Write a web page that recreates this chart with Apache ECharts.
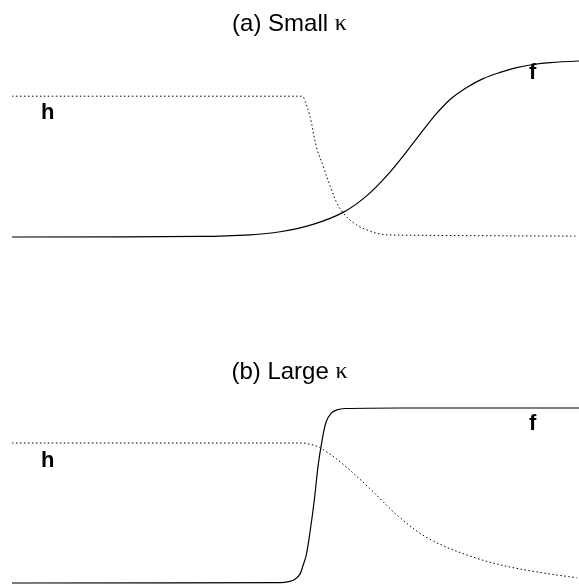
<!DOCTYPE html>
<html lang="en">

<head>
  <meta charset="UTF-8">
  <title>Small and large kappa</title>
  <script src="https://cdn.jsdelivr.net/npm/echarts@6/dist/echarts.min.js"></script>
</head>

<body style="margin: 0;padding: 0;background: #fff;">
  <div id="main" style="width: 579px;height: 586px;"></div>
  <script>
    // abscissa runs 0..100 across each panel, values 0..1
    var smallHx = [0, 51.1, 51.7, 52.6, 53.7, 54.9, 56.1, 57.5, 59.0, 60.8, 62.6, 64.9, 67.8, 99.6];
    var smallHy = [0.8, 0.8, 0.77, 0.68, 0.51, 0.40, 0.29, 0.18, 0.115, 0.068, 0.04, 0.017, 0.011, 0.005];
    var smallFx = [0, 33.2, 42.0, 47.3, 53.1, 58.4, 62.6, 66.7, 71.4, 74.3, 77.2, 80.2, 83.1, 86.1, 89.0, 91.9, 94.9, 100];
    var smallFy = [0, 0.003, 0.012, 0.03, 0.072, 0.14, 0.235, 0.37, 0.56, 0.68, 0.78, 0.85, 0.9, 0.935, 0.962, 0.98, 0.991, 1.0];

    var largeHx = [0, 50.8, 52.0, 54.3, 58.1, 63.1, 68.4, 73.7, 81.8, 89.6, 99.6];
    var largeHy = [0.8, 0.8, 0.797, 0.773, 0.686, 0.54, 0.374, 0.25, 0.143, 0.08, 0.03];
    var largeFx = [0, 47.3, 49.0, 49.9, 50.8, 51.3, 51.9, 52.6, 53.3, 54.0, 54.7, 55.4, 56.3, 57.3, 58.7, 68.4, 100];
    var largeFy = [0, 0.002, 0.009, 0.021, 0.051, 0.097, 0.16, 0.30, 0.47, 0.674, 0.817, 0.92, 0.971, 0.989, 0.997, 1.0, 1.0];

    function pairs(xs, ys) {
      return xs.map(function (x, i) { return [x, ys[i]]; });
    }

    var chart = echarts.init(document.getElementById('main'));
    var font = 'Liberation Sans, Arial, sans-serif';
    var titleStyle = {
      fontFamily: font, fontSize: 24, fontWeight: 'normal', color: '#000',
      rich: { k: { fontFamily: 'Liberation Serif, DejaVu Serif, serif', fontSize: 24, color: '#000' } }
    };
    var labelStyle = { fontFamily: font, fontSize: 22, fontWeight: 'bold', color: '#000' };

    function lbl(text, left, top) {
      return { text: text, left: left, top: top, padding: 0, textStyle: labelStyle };
    }

    var axisX = { type: 'value', min: 0, max: 100, show: false };
    var axisY = { type: 'value', min: 0, max: 1, show: false };
    var dotted = { color: '#000', width: 1, type: [1.5, 2.5] };
    var solid = { color: '#000', width: 1.2 };

    function curve(idx, xs, ys, style) {
      return {
        type: 'line', xAxisIndex: idx, yAxisIndex: idx, data: pairs(xs, ys),
        smooth: 0.35, showSymbol: false, clip: false, lineStyle: style
      };
    }

    var option = {
      animation: false,
      title: [
        { text: '(a) Small {k|κ}', left: 'center', top: 12, padding: 0, textStyle: titleStyle },
        { text: '(b) Large {k|κ}', left: 'center', top: 360, padding: 0, textStyle: titleStyle },
        lbl('h', 41, 102),
        lbl('f', 529, 62),
        lbl('h', 41, 450),
        lbl('f', 529, 413)
      ],
      grid: [
        { left: 12, width: 567, top: 61, height: 176 },
        { left: 12, width: 567, top: 408, height: 175 }
      ],
      xAxis: [
        Object.assign({ gridIndex: 0 }, axisX),
        Object.assign({ gridIndex: 1 }, axisX)
      ],
      yAxis: [
        Object.assign({ gridIndex: 0 }, axisY),
        Object.assign({ gridIndex: 1 }, axisY)
      ],
      series: [
        curve(0, smallHx, smallHy, dotted),
        curve(0, smallFx, smallFy, solid),
        curve(1, largeHx, largeHy, dotted),
        curve(1, largeFx, largeFy, solid)
      ]
    };

    chart.setOption(option);
  </script>
</body>

</html>
